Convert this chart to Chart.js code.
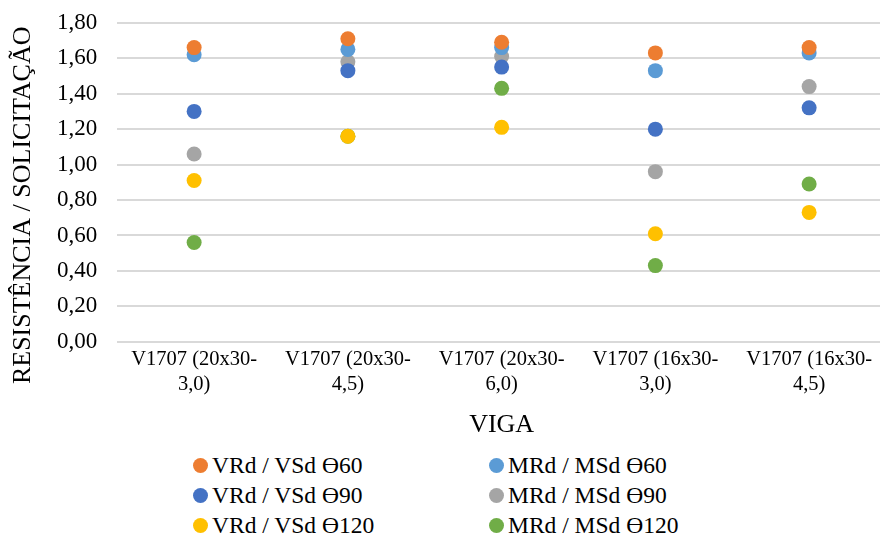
<!DOCTYPE html>
<html lang="pt">
<head>
    <meta charset="UTF-8">
    <title>Resistência / Solicitação por viga</title>
    <script src="https://cdn.jsdelivr.net/npm/chart.js"></script>
    <style>
        body { margin: 0; background: #fff; }
        #wrap { position: relative; width: 880px; height: 537px; overflow: hidden; }
        #chart-box { position: absolute; left: 0; top: -11px; width: 890px; height: 457px; }
        #legend {
            position: absolute; left: 193px; top: 452px;
            display: grid; grid-template-columns: 296px 260px; row-gap: 3px;
            font-family: "Liberation Serif", "Times New Roman", serif; font-size: 23.5px; color: #000;
        }
        .item { display: flex; align-items: center; height: 27px; white-space: nowrap; }
        .dot { width: 15px; height: 15px; border-radius: 50%; margin-right: 4px; flex: none; }
    </style>
</head>
<body>
<div id="wrap">
    <div id="chart-box"><canvas id="chart"></canvas></div>
    <div id="legend"></div>
</div>

<script>
    const vigas = [
        ["V1707 (20x30-", "3,0)"],
        ["V1707 (20x30-", "4,5)"],
        ["V1707 (20x30-", "6,0)"],
        ["V1707 (16x30-", "3,0)"],
        ["V1707 (16x30-", "4,5)"]
    ];

    const vrdVsd60  = [1.66, 1.71, 1.69, 1.63, 1.66];
    const mrdMsd60  = [1.62, 1.65, 1.66, 1.53, 1.63];
    const vrdVsd90  = [1.30, 1.53, 1.55, 1.20, 1.32];
    const mrdMsd90  = [1.06, 1.58, 1.61, 0.96, 1.44];
    const vrdVsd120 = [0.91, 1.16, 1.21, 0.61, 0.73];
    const mrdMsd120 = [0.56, 1.16, 1.43, 0.43, 0.89];

    const yTicks = [0, 0.2, 0.4, 0.6, 0.8, 1.0, 1.2, 1.4, 1.6, 1.8];

    const serif = '"Liberation Serif", "Times New Roman", serif';

    const series = [
        { label: "VRd / VSd \u019F60",  data: vrdVsd60,  color: "#ED7D31" },
        { label: "MRd / MSd \u019F60",  data: mrdMsd60,  color: "#5B9BD5" },
        { label: "VRd / VSd \u019F90",  data: vrdVsd90,  color: "#4472C4" },
        { label: "MRd / MSd \u019F90",  data: mrdMsd90,  color: "#A5A5A5" },
        { label: "VRd / VSd \u019F120", data: vrdVsd120, color: "#FFC000" },
        { label: "MRd / MSd \u019F120", data: mrdMsd120, color: "#70AD47" }
    ];

    const datasets = series.map(s => ({
        label: s.label,
        data: s.data,
        showLine: false,
        pointRadius: 7.5,
        pointHoverRadius: 7.5,
        pointBackgroundColor: s.color,
        pointBorderWidth: 0,
        borderColor: s.color,
        backgroundColor: s.color
    }));

    // y title sits a bit lower than the plot centre in the original, so draw it by hand
    const yTitle = {
        id: "yTitle",
        afterDraw(chart) {
            const { ctx, chartArea } = chart;
            ctx.save();
            ctx.translate(23, (chartArea.top + chartArea.bottom) / 2 + 23);
            ctx.rotate(-Math.PI / 2);
            ctx.font = "26px " + serif;
            ctx.fillStyle = "#000";
            ctx.textAlign = "center";
            ctx.textBaseline = "middle";
            ctx.fillText("RESISTÊNCIA / SOLICITAÇÃO", 0, 0);
            ctx.restore();
        }
    };

    new Chart(document.getElementById("chart"), {
        type: "line",
        data: { labels: vigas, datasets },
        plugins: [yTitle],
        options: {
            responsive: true,
            maintainAspectRatio: false,
            animation: false,
            layout: { autoPadding: false, padding: { top: 0, left: 37, right: 4, bottom: 5 } },
            plugins: { legend: { display: false }, tooltip: { enabled: false } },
            scales: {
                x: {
                    offset: true,
                    grid: { display: false, drawTicks: false },
                    border: { display: false },
                    ticks: {
                        color: "#000", padding: 5, maxRotation: 0, autoSkip: false,
                        font: { family: serif, size: 20.5, lineHeight: 1.22 }
                    },
                    title: {
                        display: true, text: "VIGA", color: "#000",
                        font: { family: serif, size: 26, lineHeight: 1.2 },
                        padding: { top: 8, bottom: 0 }
                    }
                },
                y: {
                    min: 0, max: 1.8,
                    afterBuildTicks: axis => { axis.ticks = yTicks.map(v => ({ value: v })); },
                    grid: { color: "#D9D9D9", lineWidth: 2, drawTicks: false },
                    border: { display: false },
                    ticks: {
                        color: "#000", padding: 20,
                        font: { family: serif, size: 23 },
                        callback: v => v.toFixed(2).replace(".", ",")
                    }
                }
            }
        }
    });

    // legend in two columns, same order as the original
    const legend = document.getElementById("legend");
    series.forEach(s => {
        const item = document.createElement("div");
        item.className = "item";
        item.innerHTML = `<span class="dot" style="background:${s.color}"></span>${s.label}`;
        legend.appendChild(item);
    });
</script>
</body>
</html>
